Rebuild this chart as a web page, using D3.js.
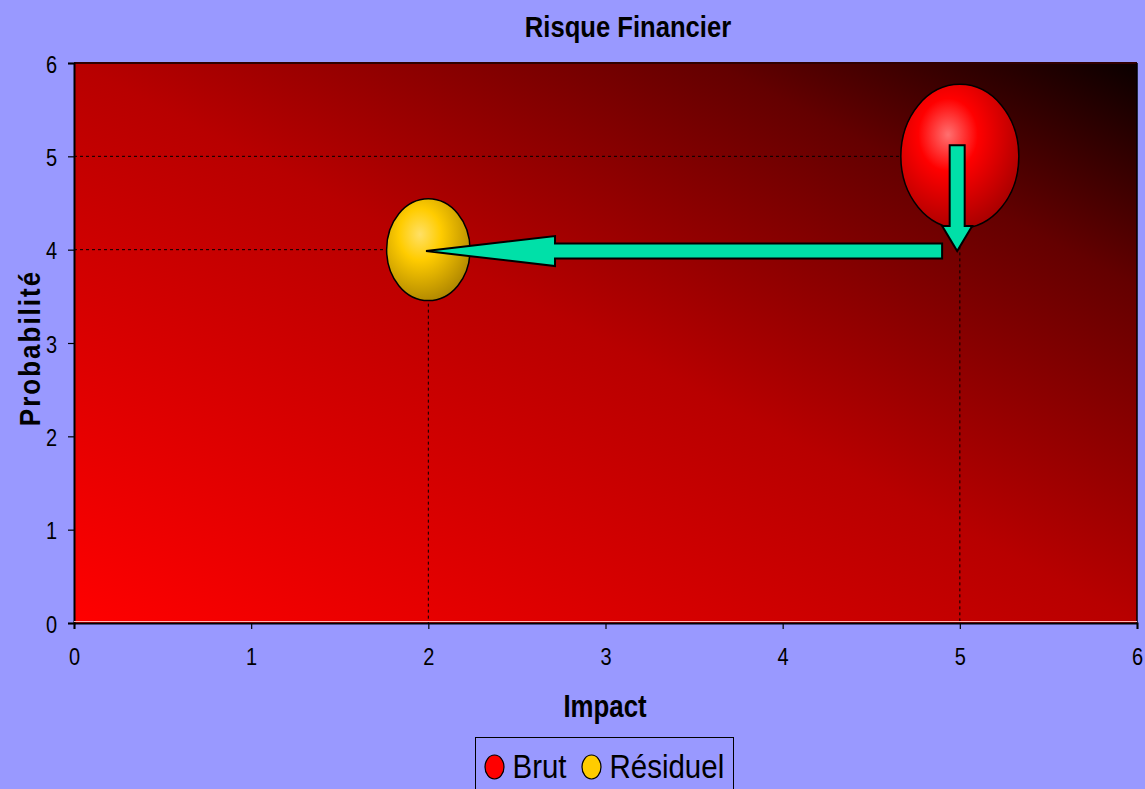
<!DOCTYPE html>
<html><head><meta charset="utf-8">
<script src="https://cdn.jsdelivr.net/npm/d3@7"></script>
<style>html,body{margin:0;padding:0;background:#9999FF;}svg{display:block;}</style>
</head><body>
<svg id="chart" width="1145" height="789"></svg>
<script>
// ---- data ----
const seriesNames = ["Brut", "Résiduel"];
const impactValues = [5, 2];
const probabilityValues = [5, 4];
const bubbleSizes = [10, 5];
const bubbleColors = ["#ff0000", "#ffcc00"];
const xTicks = [0, 1, 2, 3, 4, 5, 6];
const yTicks = [0, 1, 2, 3, 4, 5, 6];
// arrow annotations [x, y] in data units
const arrowFrom = [[4.9, 3.985], [4.985, 5.12]];
const arrowTo = [[1.987, 3.985], [4.985, 3.985]];
const titleText = "Risque Financier";
const xTitle = "Impact";
const yTitle = "Probabilité";

// ---- layout ----
const svg = d3.select("#chart");
const W = 1145, H = 789;
const pL = 74, pR = 1137, pT = 63, pB = 623;
const x = d3.scaleLinear().domain([0, 6]).range([pL, pR]);
const y = d3.scaleLinear().domain([0, 6]).range([pB, pT]);
const r = d3.scaleSqrt().domain([0, 10]).range([0, 59]);
const aspect = 1.22;
const font = "'Liberation Sans', Arial, sans-serif";

svg.append("rect").attr("width", W).attr("height", H).attr("fill", "#9999FF");

const defs = svg.append("defs");
const bg = defs.append("linearGradient").attr("id", "bg")
  .attr("x1", 0).attr("y1", 1).attr("x2", 1).attr("y2", 0);
[[0, "#ff0000"], [0.5, "#b80000"], [0.8, "#640000"], [1, "#0a0000"]].forEach(s =>
  bg.append("stop").attr("offset", s[0]).attr("stop-color", s[1]));

function bubbleGrad(id, light, mid, dark) {
  const g = defs.append("radialGradient").attr("id", id)
    .attr("cx", 0.4).attr("cy", 0.35).attr("r", 0.72).attr("fx", 0.4).attr("fy", 0.35);
  g.append("stop").attr("offset", 0).attr("stop-color", light);
  g.append("stop").attr("offset", 0.35).attr("stop-color", mid);
  g.append("stop").attr("offset", 1).attr("stop-color", dark);
}
bubbleGrad("g0", "#ff7070", "#ff0000", "#a00000");
bubbleGrad("g1", "#ffe066", "#ffcc00", "#a88000");

// plot area
svg.append("rect").attr("x", pL).attr("y", pT).attr("width", pR - pL).attr("height", pB - pT)
  .attr("fill", "url(#bg)");
svg.append("line").attr("x1", pL).attr("x2", pR).attr("y1", pT).attr("y2", pT)
  .attr("stroke", "#300000").attr("stroke-width", 2);
svg.append("line").attr("x1", pR).attr("x2", pR).attr("y1", pT).attr("y2", pB)
  .attr("stroke", "#000").attr("stroke-width", 1.5);

// drop lines
const pts = seriesNames.map((n, i) => ({n, x: impactValues[i], y: probabilityValues[i], s: bubbleSizes[i], i}));
const g = svg.append("g");
pts.forEach(p => {
  g.append("line").attr("x1", pL).attr("x2", x(p.x)).attr("y1", y(p.y)).attr("y2", y(p.y))
    .attr("stroke", "#000").attr("stroke-dasharray", "3,3").attr("stroke-width", 1);
  g.append("line").attr("x1", x(p.x)).attr("x2", x(p.x)).attr("y1", y(p.y)).attr("y2", pB)
    .attr("stroke", "#000").attr("stroke-dasharray", "3,3").attr("stroke-width", 1);
});

// bubbles
g.selectAll("ellipse.b").data(pts).join("ellipse").attr("class", "b")
  .attr("cx", d => x(d.x)).attr("cy", d => y(d.y))
  .attr("rx", d => r(d.s)).attr("ry", d => r(d.s) * aspect)
  .attr("fill", d => `url(#g${d.i})`).attr("stroke", "#000").attr("stroke-width", 1.5);

// arrows
function arrowPath(f, t, shaftHalf, headHalf, headLen) {
  const x0 = x(f[0]), y0 = y(f[1]), x1 = x(t[0]), y1 = y(t[1]);
  const dx = x1 - x0, dy = y1 - y0, L = Math.hypot(dx, dy);
  const ux = dx / L, uy = dy / L, nx = -uy, ny = ux;
  const bx = x1 - ux * headLen, by = y1 - uy * headLen;
  const P = [
    [x0 + nx * shaftHalf, y0 + ny * shaftHalf],
    [bx + nx * shaftHalf, by + ny * shaftHalf],
    [bx + nx * headHalf, by + ny * headHalf],
    [x1, y1],
    [bx - nx * headHalf, by - ny * headHalf],
    [bx - nx * shaftHalf, by - ny * shaftHalf],
    [x0 - nx * shaftHalf, y0 - ny * shaftHalf]
  ];
  return "M" + P.map(p => p.join(",")).join("L") + "Z";
}
const arrowSpec = [[7.5, 15, 129], [7.5, 15, 25]];
arrowFrom.forEach((f, i) => {
  svg.append("path").attr("d", arrowPath(f, arrowTo[i], ...arrowSpec[i]))
    .attr("fill", "#00e0a8").attr("stroke", "#000").attr("stroke-width", 2).attr("stroke-linejoin", "miter");
});

// axes
const xAxis = svg.append("g").attr("transform", `translate(0,${pB})`)
  .call(d3.axisBottom(x).tickValues(xTicks).tickSize(6).tickFormat(d3.format("d")));
const yAxis = svg.append("g").attr("transform", `translate(${pL},0)`)
  .call(d3.axisLeft(y).tickValues(yTicks).tickSize(6).tickFormat(d3.format("d")));
[xAxis, yAxis].forEach(a => {
  a.select(".domain").attr("stroke", "#000").attr("stroke-width", 2);
  a.selectAll(".tick line").attr("stroke", "#000").attr("stroke-width", 1.2);
  a.selectAll(".tick text").attr("fill", "#000").attr("font-family", null).attr("font-size", null)
    .style("font-family", font).style("font-size", "20px")
    .attr("x", null).attr("y", null).attr("dy", null);
});
xAxis.selectAll(".tick text").attr("transform", "translate(0,42) scale(1,1.2)");
yAxis.selectAll(".tick text").attr("transform", "translate(-17,9) scale(1,1.2)");
svg.append("line").attr("x1", pL).attr("x2", pR).attr("y1", pB - 1.5).attr("y2", pB - 1.5)
  .attr("stroke", "#ffb0b0").attr("stroke-width", 1);

// titles
svg.append("text").attr("transform", "translate(628,37) scale(1,1.17)").attr("text-anchor", "middle")
  .style("font-family", font).style("font-weight", "bold").style("font-size", "25.6px").text(titleText);
svg.append("text").attr("transform", "translate(605,717) scale(1,1.19)").attr("text-anchor", "middle")
  .style("font-family", font).style("font-weight", "bold").style("font-size", "25.8px").text(xTitle);
svg.append("text").attr("transform", "translate(40,348) rotate(-90) scale(1,1.12)").attr("text-anchor", "middle")
  .style("font-family", font).style("font-weight", "bold").style("font-size", "26px")
  .style("letter-spacing", "2px").text(yTitle);

// legend
const lg = svg.append("g");
lg.append("rect").attr("x", 475.5).attr("y", 737.5).attr("width", 258).attr("height", 60)
  .attr("fill", "#9999FF").attr("stroke", "#000").attr("stroke-width", 1);
const legX = [494.5, 591.5];
seriesNames.forEach((n, i) => {
  lg.append("ellipse").attr("cx", legX[i]).attr("cy", 767).attr("rx", 9.5).attr("ry", 12)
    .attr("fill", bubbleColors[i]).attr("stroke", "#000").attr("stroke-width", 1.2);
  lg.append("text").attr("transform", `translate(${legX[i] + 18},778) scale(1,1.15)`)
    .style("font-family", font).style("font-size", "29.5px").text(n);
});
</script>
</body></html>
